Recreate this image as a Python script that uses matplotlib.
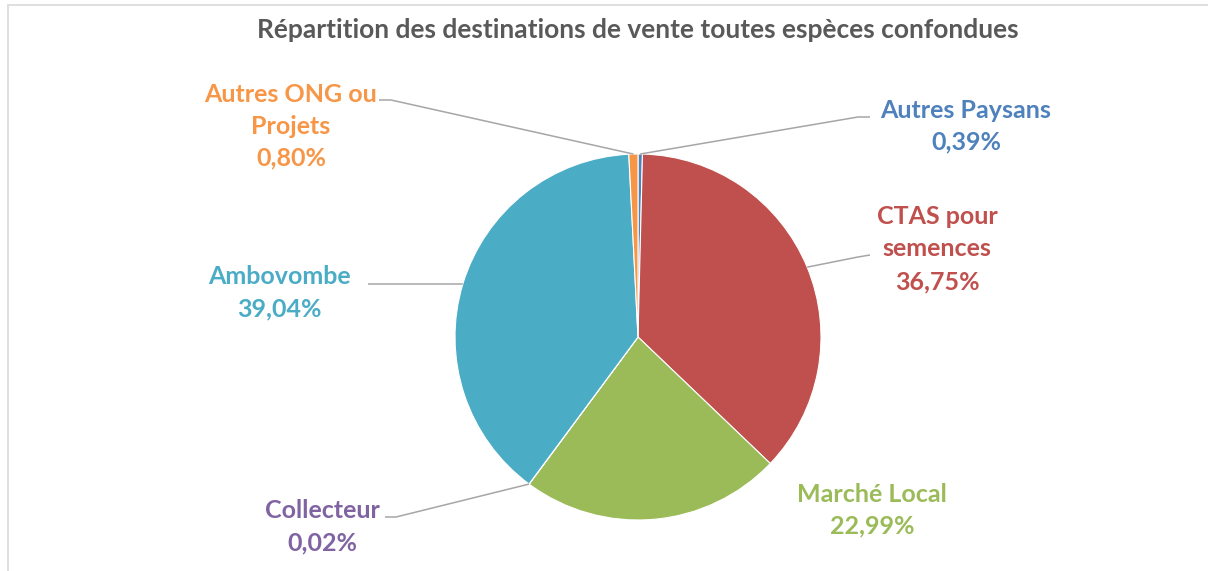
import matplotlib
matplotlib.use("Agg")
import matplotlib.pyplot as plt
import numpy as np
from matplotlib.patches import Rectangle

categories = ["Autres Paysans", "CTAS pour semences", "Marché Local", "Collecteur", "Ambovombe", "Autres ONG ou Projets"]
values = [0.39, 36.75, 22.99, 0.02, 39.04, 0.80]
value_labels = ["0,39%", "36,75%", "22,99%", "0,02%", "39,04%", "0,80%"]
colors = ["#4F81BD", "#C0504D", "#9BBB59", "#8064A2", "#4BACC6", "#F79646"]
title = "Répartition des destinations de vente toutes espèces confondues"

W, H = 1208, 571
fig = plt.figure(figsize=(W / 100, H / 100), dpi=100)
ax = fig.add_axes([0, 0, 1, 1])
ax.set_xlim(0, W)
ax.set_ylim(0, H)
ax.set_aspect("equal")
ax.axis("off")

FONT = "Lato"

def Y(y):
    return H - y

cx, cy, r = 638, 337, 183
ax.pie(values, colors=colors, startangle=90, counterclock=False,
       center=(cx, Y(cy)), radius=r, frame=True,
       wedgeprops=dict(edgecolor="white", linewidth=0.8))
ax.set_xlim(0, W)
ax.set_ylim(0, H)
ax.axis("off")

# frame
fig.patches.append(Rectangle((8 / W, 0 - 0.01), 1.1, (H - 5) / H + 0.01, transform=fig.transFigure,
                             fill=False, edgecolor="#D9D9D9", linewidth=1.2))

ax.text(cx, Y(30), title, ha="center", va="center", fontsize=19,
        fontweight="bold", color="#595959", family=FONT)

total = sum(values)
cum = np.cumsum([0] + values[:-1])
mid_angles = [np.deg2rad(90 - (c + v / 2) / total * 360) for c, v in zip(cum, values)]
edge_pts = [(cx + r * np.cos(a), cy - r * np.sin(a)) for a in mid_angles]

layout = {
    0: dict(x=966, ys=[110, 142], lines=["Autres Paysans"], leader=[(870, 117), (858, 117)]),
    1: dict(x=937, ys=[217, 249, 282], lines=["CTAS pour", "semences"], leader=[(870, 255), (858, 257)]),
    2: dict(x=872, ys=[494, 526], lines=["Marché Local"], leader=None),
    3: dict(x=322, ys=[510, 543], lines=["Collecteur"], leader=[(385, 517), (396, 517)]),
    4: dict(x=279, ys=[277, 309], lines=["Ambovombe"], leader=[(368, 284), (380, 284)]),
    5: dict(x=291, ys=[95, 127, 158], lines=["Autres ONG ou", "Projets"], leader=[(379, 100), (391, 100)]),
}

for i, L in layout.items():
    texts = L["lines"] + [value_labels[i]]
    for t, y in zip(texts, L["ys"]):
        ax.text(L["x"], Y(y), t, ha="center", va="center", fontsize=18,
                fontweight="bold", color=colors[i], family=FONT)
    if L["leader"]:
        pts = L["leader"] + [edge_pts[i]]
        ax.plot([p[0] for p in pts], [Y(p[1]) for p in pts], color="#A6A6A6",
                linewidth=1.1, solid_capstyle="butt")

fig.savefig("out.png", dpi=100)
